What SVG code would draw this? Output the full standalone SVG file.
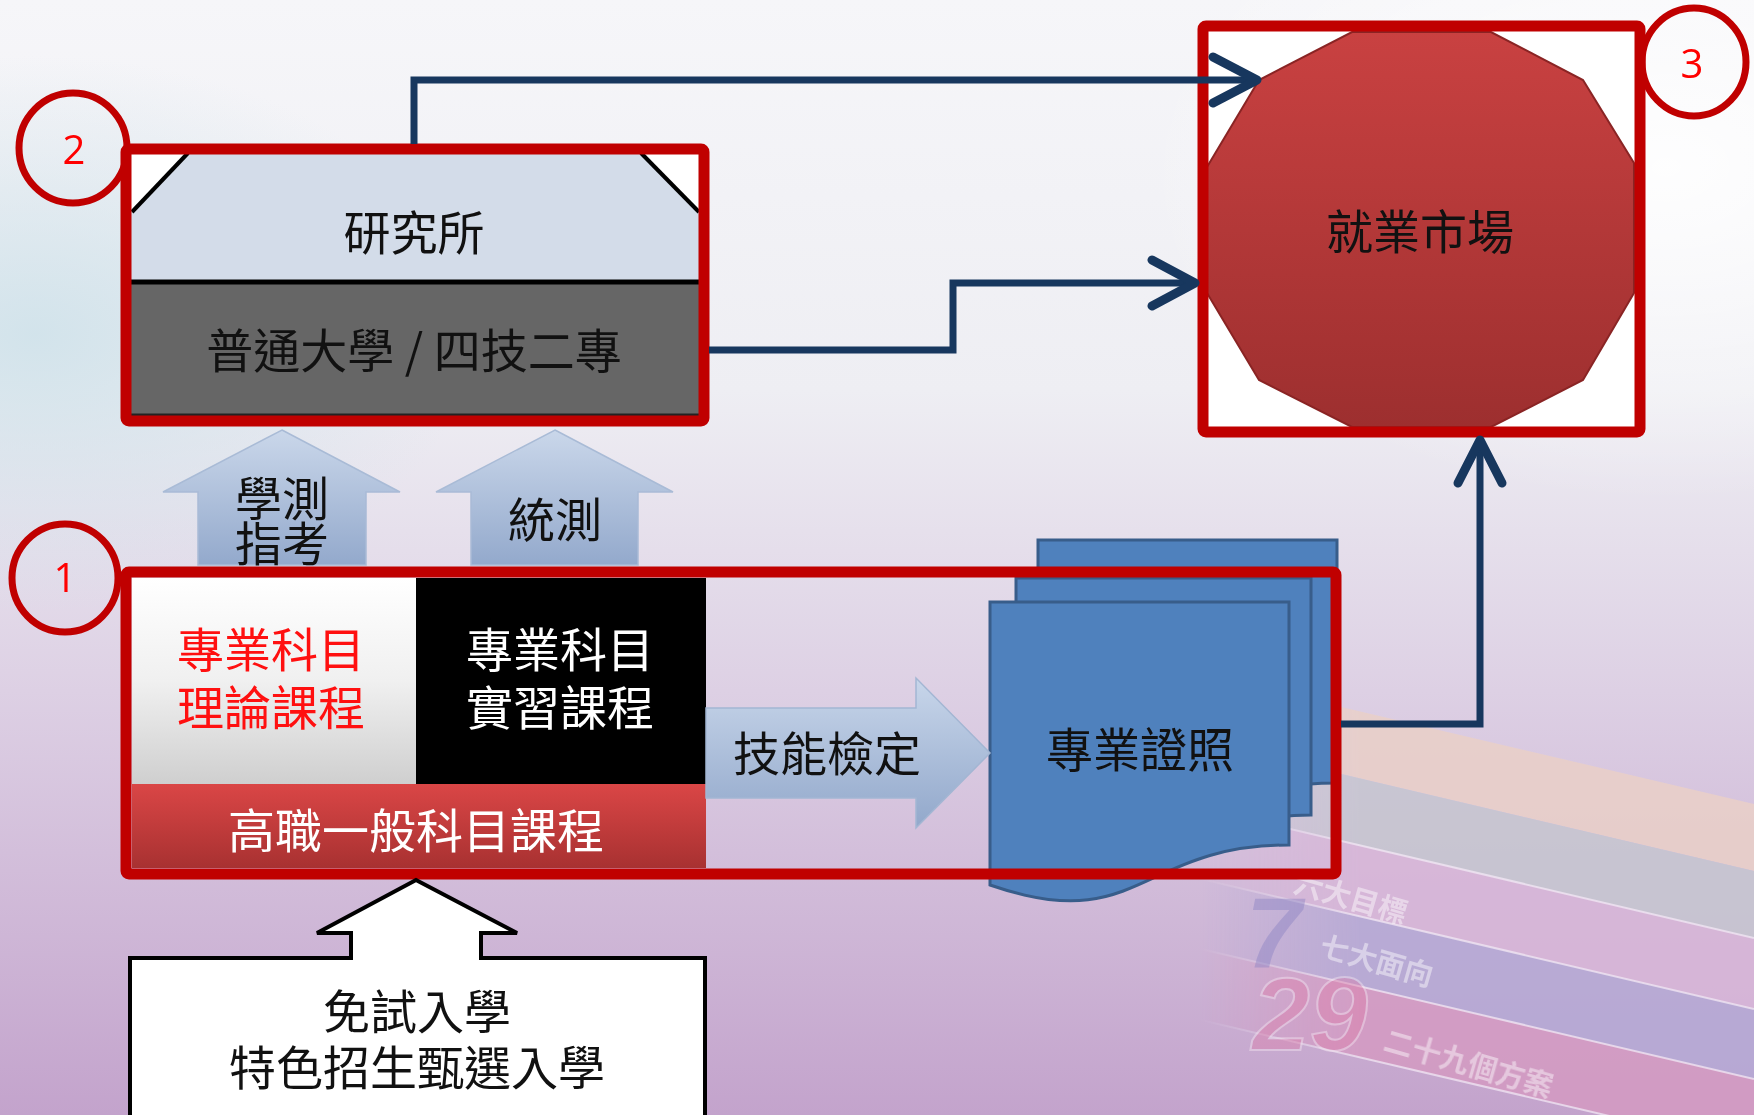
<svg xmlns="http://www.w3.org/2000/svg" width="1754" height="1115" viewBox="0 0 1754 1115">
<defs>
<linearGradient id="bg" x1="0" y1="0" x2="0" y2="1">
<stop offset="0" stop-color="#f6f6f9"/>
<stop offset="0.35" stop-color="#eeeef3"/>
<stop offset="0.62" stop-color="#ddd0e4"/>
<stop offset="1" stop-color="#c3a3cc"/>
</linearGradient>
<radialGradient id="glowL" cx="0.02" cy="0.3" r="0.25">
<stop offset="0" stop-color="#cfe2ea" stop-opacity="0.9"/>
<stop offset="1" stop-color="#cfe2ea" stop-opacity="0"/>
</radialGradient>
<radialGradient id="glowR" cx="0.95" cy="0.15" r="0.3">
<stop offset="0" stop-color="#ffffff" stop-opacity="0.9"/>
<stop offset="1" stop-color="#ffffff" stop-opacity="0"/>
</radialGradient>
<linearGradient id="bandFade" gradientUnits="userSpaceOnUse" x1="1200" y1="0" x2="1360" y2="0">
<stop offset="0" stop-color="#fff" stop-opacity="0"/>
<stop offset="1" stop-color="#fff" stop-opacity="1"/>
</linearGradient>
<mask id="bandMask" maskUnits="userSpaceOnUse" x="0" y="0" width="1754" height="1115">
<rect x="1150" y="600" width="604" height="515" fill="url(#bandFade)"/>
</mask>
<linearGradient id="upArrow" x1="0" y1="0" x2="0" y2="1">
<stop offset="0" stop-color="#cad7ea"/>
<stop offset="1" stop-color="#93a9cc"/>
</linearGradient>
<linearGradient id="rightArrow" x1="0" y1="0" x2="0" y2="1">
<stop offset="0" stop-color="#c8d6ea"/>
<stop offset="1" stop-color="#92a8cb"/>
</linearGradient>
<linearGradient id="whiteBox" x1="0" y1="0" x2="0" y2="1">
<stop offset="0" stop-color="#ffffff"/>
<stop offset="0.5" stop-color="#f0f0f0"/>
<stop offset="1" stop-color="#cfcfcf"/>
</linearGradient>
<linearGradient id="redBar" x1="0" y1="0" x2="0" y2="1">
<stop offset="0" stop-color="#da4646"/>
<stop offset="1" stop-color="#a83131"/>
</linearGradient>
<linearGradient id="dodec" x1="0" y1="0" x2="0" y2="1">
<stop offset="0" stop-color="#c94141"/>
<stop offset="1" stop-color="#9d2f2f"/>
</linearGradient>
<style>
.frame{fill:none;stroke:#c00000;stroke-width:11;stroke-linejoin:round}
.ring{fill:none;stroke:#c00000;stroke-width:7}
.num{font-family:"Open Sans","Liberation Sans",sans-serif;font-size:40px;fill:#ff0000;text-anchor:middle;dominant-baseline:central}
.t{font-family:"Noto Sans CJK TC","Noto Sans CJK SC",sans-serif;text-anchor:middle;dominant-baseline:central;font-size:47px;fill:#111}
.conn{fill:none;stroke:#17375e;stroke-width:7;stroke-linejoin:miter}
.head{fill:none;stroke:#17375e;stroke-width:9;stroke-linecap:round;stroke-linejoin:round}
.doc{fill:#4f81bd;stroke:#385d8a;stroke-width:3}
.bgt{font-family:"Noto Sans CJK TC",sans-serif;fill:#ffffff;font-weight:bold;font-size:29px}
.sep{stroke:#f6eef8;stroke-width:2;opacity:0.8}
</style>
</defs>

<!-- background -->
<rect x="0" y="0" width="1754" height="1115" fill="url(#bg)"/>
<rect x="0" y="0" width="1754" height="1115" fill="url(#glowL)"/>
<rect x="0" y="0" width="1754" height="1115" fill="url(#glowR)"/>
<g mask="url(#bandMask)" opacity="0.85">
<polygon points="1150,662 1754,804 1754,871 1150,729" fill="#ead0c8"/>
<polygon points="1150,729 1754,871 1754,938 1150,796" fill="#c6c6d0"/>
<polygon points="1150,796 1754,938 1754,1009 1150,867" fill="#d8b6d8"/>
<polygon points="1150,867 1754,1009 1754,1079 1150,937" fill="#b5a9d5"/>
<polygon points="1150,937 1754,1079 1754,1150 1150,1008" fill="#d49ac2"/>
<line class="sep" x1="1150" y1="796" x2="1754" y2="938"/>
<line class="sep" x1="1150" y1="867" x2="1754" y2="1009"/>
<line class="sep" x1="1150" y1="937" x2="1754" y2="1079"/>
<line class="sep" x1="1150" y1="1008" x2="1754" y2="1150"/>
</g>
<g opacity="0.45">
<text class="bgt" x="1292" y="892" transform="rotate(16 1292 892)">六大目標</text>
<text class="bgt" x="1318" y="955" transform="rotate(16 1318 955)">七大面向</text>
<text class="bgt" x="1382" y="1050" transform="rotate(16 1382 1050)">二十九個方案</text>
</g>
<text x="1246" y="968" font-family="Liberation Sans,sans-serif" font-size="100" font-weight="bold" font-style="italic" fill="#8c84c4" opacity="0.45">7</text>
<text x="1252" y="1050" font-family="Liberation Sans,sans-serif" font-size="104" font-weight="bold" font-style="italic" fill="#dc7eac" stroke="#f4e4f0" stroke-width="2" opacity="0.45">29</text>

<!-- node 2: university -->
<g id="node-university">
<rect x="126" y="149" width="578" height="272" fill="#ffffff"/>
<polygon points="188,153 641,153 700,212 700,282 130,282 130,212" fill="#d3dce9"/>
<line x1="132" y1="212" x2="188" y2="153" stroke="#000" stroke-width="4"/>
<line x1="641" y1="153" x2="699" y2="212" stroke="#000" stroke-width="4"/>
<rect x="130" y="282" width="570" height="134" fill="#666666"/>
<line x1="130" y1="282" x2="700" y2="282" stroke="#000" stroke-width="5"/>
<line x1="130" y1="415" x2="700" y2="415" stroke="#222" stroke-width="3"/>
<text class="t" x="414" y="229">研究所</text>
<text class="t" x="414" y="347">普通大學 / 四技二專</text>
<rect class="frame" x="126" y="149" width="578" height="272" rx="3"/>
</g>
<g id="badge-2">
<ellipse class="ring" cx="73" cy="148" rx="54" ry="55"/>
<text class="num" x="74" y="148">2</text>
</g>

<!-- node 3: job market -->
<g id="node-market">
<rect x="1203" y="26" width="437" height="406" fill="#ffffff"/>
<polygon points="1352,32 1491,32 1583,80 1634,163 1634,293 1583,380 1491,427 1352,427 1259,380 1207,293 1207,167 1259,80" fill="url(#dodec)" stroke="#8a2424" stroke-width="2"/>
<text class="t" x="1420" y="228">就業市場</text>
<rect class="frame" x="1203" y="26" width="437" height="406" rx="3"/>
</g>
<g id="badge-3">
<ellipse class="ring" cx="1694" cy="62" rx="52" ry="54"/>
<text class="num" x="1692" y="62">3</text>
</g>

<!-- up arrows -->
<g id="arrow-xuece">
<path d="M282,430 L400,492 L366,492 L366,565 L198,565 L198,492 L163,492 Z" fill="url(#upArrow)" stroke="#a9bbd6" stroke-width="1.5"/>
<text class="t" x="282" y="495" font-size="34">學測</text>
<text class="t" x="282" y="540" font-size="34">指考</text>
</g>
<g id="arrow-tongce">
<path d="M555,430 L673,492 L638,492 L638,565 L471,565 L471,492 L436,492 Z" fill="url(#upArrow)" stroke="#a9bbd6" stroke-width="1.5"/>
<text class="t" x="555" y="516">統測</text>
</g>

<!-- certificates (multi-document) -->
<g id="node-certificate">
<path class="doc" d="M1038,540 H1337 V783 C1188,783 1188,872 1038,822 Z"/>
<path class="doc" d="M1016,578 H1311 V815 C1163,815 1163,905 1016,853 Z"/>
<path class="doc" d="M990,602 H1289 V845 C1139,845 1139,937 990,885 Z"/>
<text class="t" x="1140" y="746">專業證照</text>
</g>

<!-- node 1: vocational high school -->
<g id="node-vocational">
<rect x="132" y="578" width="284" height="206" fill="url(#whiteBox)"/>
<text class="t" x="271" y="646" style="fill:#ff1010">專業科目</text>
<text class="t" x="271" y="704" style="fill:#ff1010">理論課程</text>
<rect x="416" y="578" width="290" height="206" fill="#000000"/>
<text class="t" x="560" y="646" style="fill:#ffffff">專業科目</text>
<text class="t" x="560" y="704" style="fill:#ffffff">實習課程</text>
<rect x="132" y="784" width="574" height="84" fill="url(#redBar)"/>
<text class="t" x="416" y="827" style="fill:#ffffff">高職一般科目課程</text>
</g>
<g id="arrow-skill">
<path d="M706,708 L916,708 L916,678 L990,753 L916,828 L916,798 L706,798 Z" fill="url(#rightArrow)" stroke="#a3b6d3" stroke-width="1.5"/>
<text class="t" x="827" y="750">技能檢定</text>
</g>
<rect class="frame" x="126" y="572" width="1210" height="302" rx="3"/>
<g id="badge-1">
<ellipse class="ring" cx="65" cy="578" rx="53" ry="54"/>
<text class="num" x="65" y="576">1</text>
</g>

<!-- admission callout -->
<g id="node-admission">
<path d="M416,880 L517,933 L481,933 L481,958 L705,958 L705,1125 L130,1125 L130,958 L351,958 L351,933 L317,933 Z" fill="#ffffff" stroke="#000000" stroke-width="4" stroke-linejoin="miter"/>
<text class="t" x="417" y="1008">免試入學</text>
<text class="t" x="417" y="1064">特色招生甄選入學</text>
</g>

<!-- connectors -->
<g id="connectors">
<polyline class="conn" points="414,144 414,80 1255,80"/>
<polyline class="head" points="1213,57 1257,80 1213,103"/>
<polyline class="conn" points="709,350 953,350 953,283 1192,283"/>
<polyline class="head" points="1152,260 1195,283 1152,306"/>
<polyline class="conn" points="1341,724 1480,724 1480,442"/>
<polyline class="head" points="1458,483 1480,440 1502,483"/>
</g>
</svg>
